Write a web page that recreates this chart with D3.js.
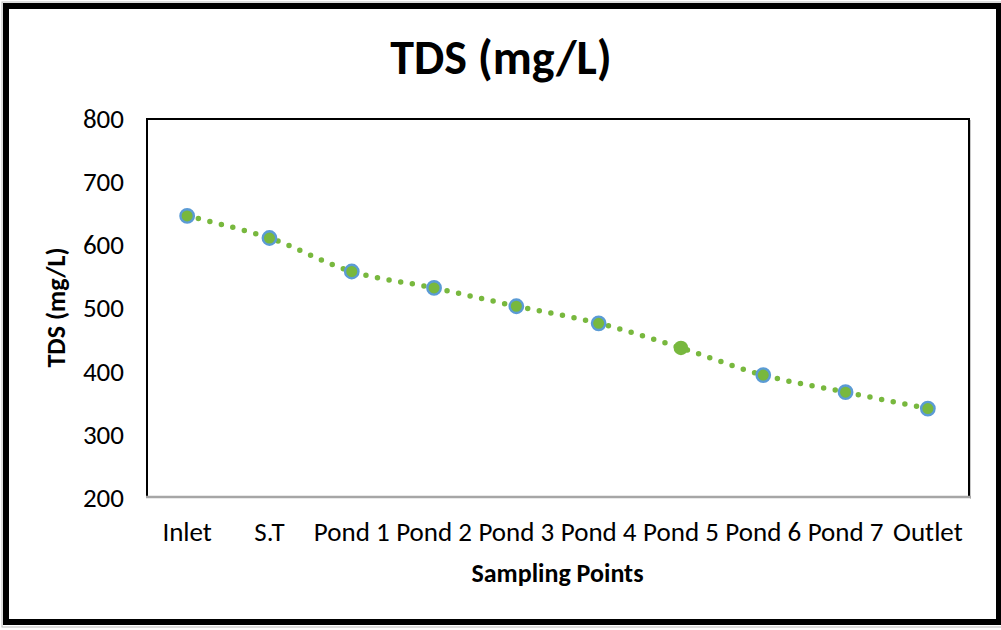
<!DOCTYPE html>
<html lang="en">
<head>
    <meta charset="utf-8">
    <title>TDS (mg/L)</title>
    <style>
        body { margin: 0; background: #fff; }
        text { font-family: Carlito, Calibri, Lato, sans-serif; fill: #000; }
        .tick text { font-size: 27px; }
        .axis-title { font-size: 26px; font-weight: bold; }
        .title { font-size: 48px; font-weight: bold; }
    </style>
</head>
<body>
    <div id="chart"></div>
    <script src="https://cdn.jsdelivr.net/npm/d3@7"></script>
    <script>
        // data
        const categories = ['Inlet', 'S.T', 'Pond 1', 'Pond 2', 'Pond 3', 'Pond 4', 'Pond 5', 'Pond 6', 'Pond 7', 'Outlet'];
        const tds = [645, 610, 557, 531, 502, 475, 436, 393, 366, 340];
        const yTicks = [200, 300, 400, 500, 600, 700, 800];

        const width = 1001, height = 630;
        const plot = {left: 146, right: 969, top: 118, bottom: 497};
        const green = '#78b83e', blue = '#5b9bd5';

        const svg = d3.select('#chart')
            .append('svg')
                .attr('width', width)
                .attr('height', height);

        // outer frame
        svg.append('rect')
            .attr('x', 2).attr('y', 2)
            .attr('width', 1001).attr('height', 625)
            .attr('fill', 'none')
            .attr('stroke', '#bbb')
            .attr('stroke-width', 1);
        svg.append('rect')
            .attr('x', 6).attr('y', 6)
            .attr('width', 993).attr('height', 616)
            .attr('fill', 'none')
            .attr('stroke', '#000')
            .attr('stroke-width', 6);

        const x = d3.scaleBand()
            .domain(categories)
            .range([plot.left, plot.right]);

        const y = d3.scaleLinear()
            .domain([200, 800])
            .range([plot.bottom, plot.top]);

        // plot area border
        svg.append('rect')
            .attr('x', plot.left + 1).attr('y', plot.top + 1)
            .attr('width', plot.right - plot.left - 1)
            .attr('height', plot.bottom - plot.top - 1)
            .attr('fill', 'none')
            .attr('stroke', '#000')
            .attr('stroke-width', 2);
        // soft shadow on right side
        svg.append('line')
            .attr('x1', plot.right + 1.5).attr('x2', plot.right + 1.5)
            .attr('y1', plot.top + 2).attr('y2', plot.bottom + 2)
            .attr('stroke', '#c8c8c8').attr('stroke-width', 1);

        // y axis
        svg.append('g')
            .attr('class', 'y axis')
            .attr('transform', `translate(${plot.left}, 0)`)
            .call(d3.axisLeft(y).tickValues(yTicks).tickSize(0).tickPadding(22))
            .call(g => g.select('.domain').remove())
            .selectAll('text')
                .attr('dy', '0.35em');

        // x axis
        const xAxis = svg.append('g')
            .attr('class', 'x axis')
            .attr('transform', `translate(0, ${plot.bottom})`)
            .call(d3.axisBottom(x).tickSize(0).tickPadding(25));
        xAxis.select('.domain').remove();
        svg.append('line')
            .attr('x1', plot.left).attr('x2', plot.right + 2)
            .attr('y1', plot.bottom).attr('y2', plot.bottom)
            .attr('stroke', '#a6a6a6').attr('stroke-width', 2.5);

        // titles
        svg.append('text')
            .attr('class', 'title')
            .attr('x', 501).attr('y', 74)
            .attr('text-anchor', 'middle')
            .text('TDS (mg/L)');

        svg.append('text')
            .attr('class', 'axis-title')
            .attr('x', (plot.left + plot.right) / 2).attr('y', 582)
            .attr('text-anchor', 'middle')
            .text('Sampling Points');

        svg.append('text')
            .attr('class', 'axis-title')
            .attr('text-anchor', 'middle')
            .attr('transform', `translate(65, ${(plot.top + plot.bottom) / 2}) rotate(-90)`)
            .text('TDS (mg/L)');

        // dotted smoothed line
        const points = categories.map((c, i) => ({cat: c, value: tds[i]}));
        const line = d3.line()
            .x(d => x(d.cat) + x.bandwidth() / 2)
            .y(d => y(d.value))
            .curve(d3.curveCatmullRom);

        svg.append('path')
            .attr('d', line(points))
            .attr('fill', 'none')
            .attr('stroke', green)
            .attr('stroke-width', 5.5)
            .attr('stroke-linecap', 'round')
            .attr('stroke-dasharray', '0 11.8');

        // markers
        svg.selectAll('circle.pt')
            .data(points)
            .join('circle')
                .attr('class', 'pt')
                .attr('cx', d => x(d.cat) + x.bandwidth() / 2)
                .attr('cy', d => y(d.value))
                .attr('r', d => d.cat === 'Pond 5' ? 7.3 : 6.7)
                .attr('fill', green)
                .attr('stroke', d => d.cat === 'Pond 5' ? 'none' : blue)
                .attr('stroke-width', 2.4);
    </script>
</body>
</html>
